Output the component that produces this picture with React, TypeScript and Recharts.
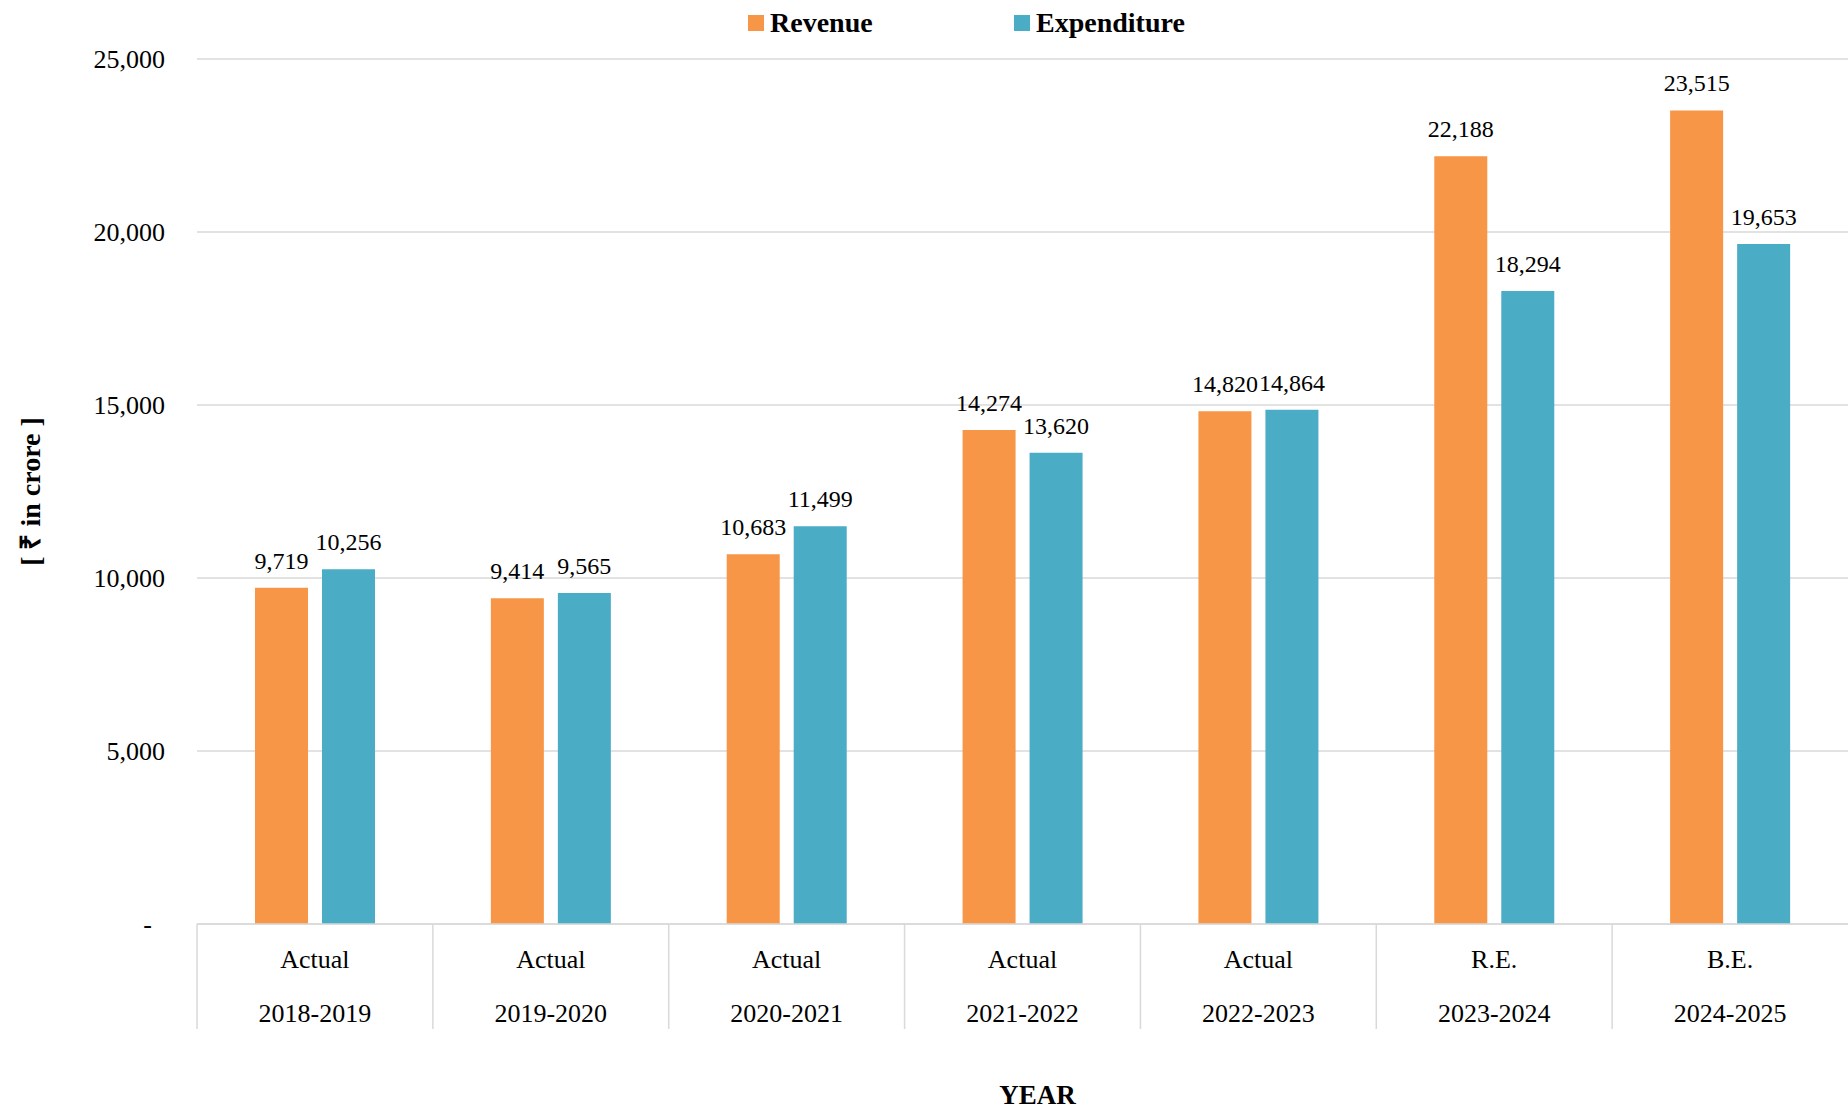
import React from 'react';
import { BarChart, Bar, XAxis, YAxis, CartesianGrid, Legend, LabelList, Label } from 'recharts';

// Values (₹ in crore)
const years = ['2018-2019', '2019-2020', '2020-2021', '2021-2022', '2022-2023', '2023-2024', '2024-2025'];
const stages = ['Actual', 'Actual', 'Actual', 'Actual', 'Actual', 'R.E.', 'B.E.'];
const revenue = [9719, 9414, 10683, 14274, 14820, 22188, 23515];
const expenditure = [10256, 9565, 11499, 13620, 14864, 18294, 19653];
const yTicks = [0, 5000, 10000, 15000, 20000, 25000];
const seriesOrder = ['Revenue', 'Expenditure'];

const data = years.map((year, i) => ({
  year,
  revenue: revenue[i],
  expenditure: expenditure[i],
}));

const W = 1848;
const H = 1113;
const Y_AXIS_W = 197;
const X_AXIS_H = 110;
const BAND = (W - Y_AXIS_W) / years.length;

const FONT = '"Liberation Serif", "Times New Roman", serif';
const GRID = '#d9d9d9';
const ORANGE = '#F79646';
const BLUE = '#4BACC6';

const fmt = (v: number) => v.toLocaleString('en-US');

// two-level category tick with the separators Excel draws between groups
const CategoryTick = (props: any) => {
  const { x, y, payload } = props;
  const i = years.indexOf(payload.value);
  const left = x - BAND / 2;
  return (
    <g>
      <line x1={left} y1={y} x2={left} y2={y + 105} stroke={GRID} strokeWidth={1.5} />
      <text x={x} y={y + 44} textAnchor="middle" fontSize={26} fontFamily={FONT} fill="#000">
        {stages[i]}
      </text>
      <text x={x} y={y + 98} textAnchor="middle" fontSize={26} fontFamily={FONT} fill="#000">
        {payload.value}
      </text>
    </g>
  );
};

const LegendContent = (props: any) => {
  const { payload = [] } = props;
  const items = [...payload].sort(
    (a: any, b: any) => seriesOrder.indexOf(a.value) - seriesOrder.indexOf(b.value)
  );
  return (
    <div style={{ display: 'flex' }}>
      {items.map((entry: any) => (
        <div key={entry.value} style={{ display: 'flex', alignItems: 'center', width: 266 }}>
          <span style={{ display: 'inline-block', width: 16, height: 16, background: entry.color, marginRight: 6 }} />
          <span style={{ fontFamily: FONT, fontWeight: 'bold', fontSize: 28, color: '#000', lineHeight: '32px' }}>
            {entry.value}
          </span>
        </div>
      ))}
    </div>
  );
};

const App: React.FC = () => {
  return (
    <div style={{ position: 'absolute', left: 0, top: 0, width: W, height: H, background: '#fff' }}>
      <BarChart
        width={W}
        height={H}
        data={data}
        margin={{ top: 59, right: 0, bottom: 79, left: 0 }}
        barSize={53}
        barGap={14}
      >
        <CartesianGrid vertical={false} stroke={GRID} strokeWidth={1.5} />
        <XAxis
          dataKey="year"
          height={X_AXIS_H}
          interval={0}
          tickLine={false}
          tickSize={0}
          tickMargin={0}
          axisLine={{ stroke: GRID, strokeWidth: 1.5 }}
          tick={<CategoryTick />}
        >
          <Label
            content={(p: any) => {
              const vb = p.viewBox || {};
              return (
                <text
                  x={vb.x + vb.width / 2 + 15}
                  y={vb.y + vb.height + 70}
                  textAnchor="middle"
                  fontSize={27}
                  fontWeight="bold"
                  fontFamily={FONT}
                  fill="#000"
                >
                  YEAR
                </text>
              );
            }}
          />
        </XAxis>
        <YAxis
          width={Y_AXIS_W}
          domain={[0, 25000]}
          ticks={yTicks}
          axisLine={false}
          tickLine={false}
          tickSize={0}
          tickMargin={32}
          tick={{ fontSize: 26, fontFamily: FONT, fill: '#000' }}
          tickFormatter={(v: number) => (v === 0 ? '-\u00a0\u00a0' : fmt(v))}
        >
          <Label
            content={(p: any) => {
              const vb = p.viewBox || {};
              const cx = 30;
              const cy = vb.y + vb.height / 2;
              return (
                <text
                  x={cx}
                  y={cy}
                  transform={`rotate(-90, ${cx}, ${cy})`}
                  textAnchor="middle"
                  dominantBaseline="central"
                  fontSize={28}
                  fontWeight="bold"
                  fontFamily={FONT}
                  fill="#000"
                >
                  [ ₹ in crore ]
                </text>
              );
            }}
          />
        </YAxis>
        <Legend
          verticalAlign="middle"
          layout="horizontal"
          wrapperStyle={{ top: 7, left: 748, width: 560 }}
          content={<LegendContent />}
        />
        <Bar dataKey="revenue" name="Revenue" fill={ORANGE} isAnimationActive={false}>
          <LabelList
            dataKey="revenue"
            position="top"
            offset={19}
            formatter={(v: any) => fmt(Number(v))}
            style={{ fontSize: 24, fontFamily: FONT, fill: '#000' }}
          />
        </Bar>
        <Bar dataKey="expenditure" name="Expenditure" fill={BLUE} isAnimationActive={false}>
          <LabelList
            dataKey="expenditure"
            position="top"
            offset={19}
            formatter={(v: any) => fmt(Number(v))}
            style={{ fontSize: 24, fontFamily: FONT, fill: '#000' }}
          />
        </Bar>
      </BarChart>
    </div>
  );
};

export default App;
